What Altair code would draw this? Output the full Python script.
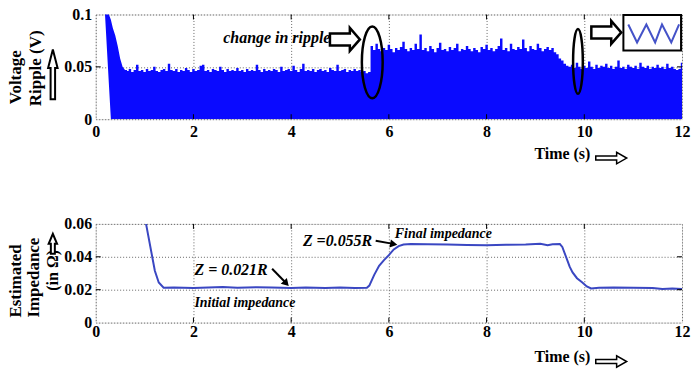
import altair as alt
import pandas as pd

FONT = "Liberation Serif"

# ---------------- data: top panel (voltage ripple envelope) ----------------
start_t = [0.19, 0.27, 0.31, 0.35, 0.40, 0.45, 0.50, 0.55, 0.60, 0.64]
start_hi = [0.125, 0.100, 0.095, 0.087, 0.080, 0.070, 0.058, 0.050, 0.047, 0.047]
start_lo = [0.100, 0.033, 0.0, 0.0, 0.0, 0.0, 0.0, 0.0, 0.0, 0.0]

ripple_t0 = 0.60
ripple_dt = 0.05
# upper envelope of the ripple, in mV
ripple_mv = [
    47, 46, 48, 45, 47, 52, 46, 47, 45, 48, 46, 47, 50, 46, 45, 47, 48, 46, 53, 47,
    46, 48, 45, 47, 46, 49, 47, 45, 48, 46, 47, 51, 52, 46, 47, 45, 48, 47, 46, 50,
    47, 45, 48, 46, 47, 46, 49, 46, 47, 45, 48, 46, 47, 46, 52, 47, 45, 48, 46, 47,
    46, 48, 47, 45, 50, 46, 47, 48, 46, 51, 47, 45, 48, 53, 46, 47, 46, 48, 45, 47,
    48, 46, 47, 45, 49, 47, 46, 52, 46, 47, 48, 45, 47, 46, 48, 46, 47, 45, 46, 44,
    45,
    70, 66, 72, 67, 65, 68, 66, 71, 67, 64, 68, 66, 69, 74, 67, 65, 68, 66, 72, 67,
    81, 66, 68, 65, 70, 67, 64, 68, 73, 66, 67, 65, 69, 66, 68, 72, 65, 67, 66, 70,
    67, 65, 68, 66, 64, 69, 67, 71, 66, 68, 65, 67, 70, 77, 66, 68, 65, 72, 67, 66,
    69, 67, 76, 68, 65, 70, 67, 66, 72, 68, 65, 67, 69, 66, 68, 64, 62,
    58, 56, 53, 51, 50, 52, 49, 54, 50, 48, 51, 49, 55, 50, 48, 52, 49, 51, 50, 53,
    49, 51, 48, 50, 56, 49, 50, 48, 52, 50, 49, 51, 48, 54, 50, 49, 51, 48, 50, 49,
    52, 49, 50, 48, 53, 49, 50, 48, 47, 48, 54,
]

# inset waveform (triangle wave) drawn in the top-right box
wave_t = [10.90, 11.08, 11.27, 11.45, 11.59, 11.78, 11.94]
wave_v = [0.0905, 0.0733, 0.0905, 0.0733, 0.0905, 0.0733, 0.0905]

# ---------------- data: bottom panel (estimated impedance) ----------------
imp_t = [1.00, 1.03, 1.21, 1.29, 1.39, 1.6, 2.0, 2.3, 2.6, 2.9, 3.3, 3.6, 4.0, 4.3,
         4.7, 5.0, 5.3, 5.55, 5.6, 5.7, 5.8, 5.9, 6.0, 6.1, 6.2, 6.3, 6.45, 6.8,
         7.2, 7.6, 8.0, 8.4, 8.8, 9.1, 9.25, 9.35, 9.5, 9.55, 9.63, 9.7, 9.76,
         9.85, 9.96, 10.05, 10.14, 10.3, 10.6, 11.0, 11.4, 11.6, 11.8, 12.0]
imp_z = [0.0625, 0.060, 0.0315, 0.0244, 0.0212, 0.0213, 0.0211, 0.0214, 0.0217,
         0.0212, 0.0215, 0.0213, 0.0210, 0.0213, 0.0211, 0.0214, 0.0211, 0.0212,
         0.0225, 0.029, 0.0345, 0.038, 0.041, 0.0445, 0.0465, 0.0475, 0.0478,
         0.0476, 0.0474, 0.0472, 0.0470, 0.0473, 0.0475, 0.0479, 0.0470, 0.0476,
         0.0477, 0.0460, 0.0396, 0.0340, 0.0305, 0.0270, 0.0244, 0.0220, 0.0208,
         0.0212, 0.0214, 0.0212, 0.0210, 0.0205, 0.0207, 0.0204]

x_ticks = [0, 2, 4, 6, 8, 10, 12]
inner_x_ticks = [2, 4, 6, 8, 10]
top_y_ticks = [0, 0.05, 0.1]
bot_y_ticks = [0, 0.02, 0.04, 0.06]

# ---------------- build tables ----------------
ripple_t = [round(ripple_t0 + ripple_dt * i, 2) for i in range(len(ripple_mv))]
df_start = pd.DataFrame({"t": start_t, "hi": start_hi, "lo": start_lo})
df_ripple = pd.DataFrame({"t": ripple_t, "hi": [v / 1000 for v in ripple_mv],
                          "lo": [0.0] * len(ripple_mv)})
df_wave = pd.DataFrame({"t": wave_t, "v": wave_v})
df_imp = pd.DataFrame({"t": imp_t, "z": imp_z})
one = pd.DataFrame({"a": [0]})

xs = alt.Scale(domain=[0, 12], nice=False, zero=False)
ys_top = alt.Scale(domain=[0, 0.1], nice=False)
ys_bot = alt.Scale(domain=[0, 0.06], nice=False)

grid_kw = dict(grid=True, gridColor="#666", gridDash=[1, 2], gridWidth=1,
               ticks=False, domain=False, title=None, labelFlush=False,
               labelFont=FONT, labelFontSize=16, labelFontWeight="bold",
               labelColor="black")


class Panel:
    def __init__(self, yscale, yvals, xpad, h):
        self.ys = yscale
        self.xax = alt.Axis(values=x_ticks, format="d", labelPadding=xpad, **grid_kw)
        self.yax = alt.Axis(values=yvals, format=".2~f", labelPadding=4, **grid_kw)
        self.h = h

    def X(self, f):
        return alt.X(f, scale=xs, axis=self.xax)

    def Y(self, f):
        return alt.Y(f, scale=self.ys, axis=self.yax)

    def shape(self, path, t, v, size, sw, filled=True):
        kw = dict(fill="white") if filled else {}
        return alt.Chart(pd.DataFrame({"t": [t], "v": [v]})).mark_point(
            shape=path, size=size, filled=filled, stroke="black", strokeWidth=sw,
            opacity=1, **kw
        ).encode(x=self.X("t:Q"), y=self.Y("v:Q"))

    def text(self, text, t, v, size):
        return alt.Chart(pd.DataFrame({"t": [t], "v": [v]})).mark_text(
            text=text, font=FONT, fontSize=size, fontWeight="bold", fontStyle="italic",
            align="left", baseline="middle", color="black"
        ).encode(x=self.X("t:Q"), y=self.Y("v:Q"))

    def ticks(self, yvals):
        xt = pd.DataFrame({"t": inner_x_ticks})
        yt = pd.DataFrame({"v": yvals})
        base = dict(color="black", strokeWidth=1)
        h = self.h
        return [
            alt.Chart(xt).mark_rule(**base).encode(x=self.X("t:Q"), y=alt.value(0), y2=alt.value(5)),
            alt.Chart(xt).mark_rule(**base).encode(x=self.X("t:Q"), y=alt.value(h - 5), y2=alt.value(h)),
            alt.Chart(yt).mark_rule(**base).encode(y=self.Y("v:Q"), x=alt.value(0), x2=alt.value(5)),
            alt.Chart(yt).mark_rule(**base).encode(y=self.Y("v:Q"), x=alt.value(583), x2=alt.value(588)),
        ]

    def arrow_line(self, t, t2, v, v2):
        return alt.Chart(pd.DataFrame({"t": [t], "t2": [t2], "v": [v], "v2": [v2]})).mark_rule(
            color="black", strokeWidth=2).encode(x=self.X("t:Q"), x2="t2:Q", y=self.Y("v:Q"), y2="v2:Q")

    def arrow_head(self, t, v, angle):
        return alt.Chart(pd.DataFrame({"t": [t], "v": [v]})).mark_point(
            shape="triangle-right", size=70, filled=True, color="black", angle=angle, opacity=1
        ).encode(x=self.X("t:Q"), y=self.Y("v:Q"))


RIGHT_ARROW = "M-1,-0.4 L0.33,-0.4 L0.33,-0.77 L1,0 L0.33,0.77 L0.33,0.4 L-1,0.4 Z"
FLAT_ARROW = "M-1,-0.13 L0.35,-0.13 L0.35,-0.37 L1,0 L0.35,0.37 L0.35,0.13 L-1,0.13 Z"
UP_ARROW_LONG = "M-0.09,1 L-0.09,-0.25 L-0.19,-0.25 L0,-1 L0.19,-0.25 L0.09,-0.25 L0.09,1 Z"
UP_ARROW_SHORT = "M-0.2,1 L-0.2,0 L-0.42,0 L0,-1 L0.42,0 L0.2,0 L0.2,1 Z"


def ellipse(rx):
    return f"M0,-1 A{rx},1 0 1,1 0,1 A{rx},1 0 1,1 0,-1 Z"


def pix_text(text, x, y, size, angle=0):
    return alt.Chart(one).mark_text(
        text=text, font=FONT, fontSize=size, fontWeight="bold",
        angle=angle, align="left", baseline="middle", color="black"
    ).encode(x=alt.value(x), y=alt.value(y))


def pix_shape(path, x, y, size, sw):
    return alt.Chart(one).mark_point(
        shape=path, size=size, filled=True, fill="white", stroke="black",
        strokeWidth=sw, opacity=1
    ).encode(x=alt.value(x), y=alt.value(y))


BLUE = "#0a0aff"

# ---------------- top panel ----------------
P = Panel(ys_top, top_y_ticks, 4, 105)
top_layers = [
    alt.Chart(df_ripple).mark_area(color=BLUE, interpolate="step", clip=True, opacity=1).encode(
        x=P.X("t:Q"), y=P.Y("hi:Q"), y2="lo:Q"),
    alt.Chart(df_start).mark_area(color=BLUE, clip=True, opacity=1).encode(
        x=P.X("t:Q"), y=P.Y("hi:Q"), y2="lo:Q"),
    *P.ticks([0.05]),
    # inset box with triangle wave
    alt.Chart(pd.DataFrame({"t": [10.80], "t2": [11.98], "v": [0.0995], "v2": [0.0657]}))
    .mark_rect(fill="white", stroke="black", strokeWidth=2).encode(
        x=P.X("t:Q"), x2="t2:Q", y=P.Y("v:Q"), y2="v2:Q"),
    alt.Chart(df_wave).mark_line(color="#4452c8", strokeWidth=2).encode(
        x=P.X("t:Q"), y=P.Y("v:Q")),
    P.shape(RIGHT_ARROW, 10.45, 0.0829, 900, 2.5),
    # annotation
    P.text("change in ripple", 2.61, 0.0771, 16),
    P.shape(RIGHT_ARROW, 5.10, 0.0762, 900, 2.5),
    P.shape(ellipse(0.29), 5.66, 0.0543, 5184, 2.5, filled=False),
    P.shape(ellipse(0.15), 9.87, 0.0552, 4225, 2.5, filled=False),
    # y title and x title
    pix_text("Voltage", -80, 90, 17, angle=270),
    pix_text("Ripple (V)", -60, 92, 17, angle=270),
    pix_shape(UP_ARROW_LONG, -43, 60, 2500, 2),
    pix_text("Time (s)", 440, 140, 16),
    pix_shape(FLAT_ARROW, 517, 144, 961, 1.5),
    # layout anchor (keeps the plot area at its place in the page)
    alt.Chart(one).mark_rule(color="white", strokeWidth=1).encode(
        x=alt.value(-94.5), x2=alt.value(-94.5), y=alt.value(-12.5), y2=alt.value(-12)),
]
top = alt.layer(*top_layers).properties(width=588, height=105)

# ---------------- bottom panel ----------------
Q = Panel(ys_bot, bot_y_ticks, 1, 99)
bot_layers = [
    alt.Chart(df_imp).mark_line(color="#3a47c2", strokeWidth=2, clip=True).encode(
        x=Q.X("t:Q"), y=Q.Y("z:Q")),
    *Q.ticks([0.02, 0.04]),
    Q.text("Z = 0.021R", 2.02, 0.0321, 16),
    Q.text("Initial impedance", 2.02, 0.0121, 14),
    Q.text("Z =0.055R", 4.24, 0.0497, 16),
    Q.text("Final impedance", 6.12, 0.0539, 14),
    Q.arrow_line(3.61, 3.88, 0.0327, 0.0245),
    Q.arrow_head(3.90, 0.0238, 47),
    Q.arrow_line(5.73, 6.06, 0.0497, 0.0480),
    Q.arrow_head(6.10, 0.0477, 10),
    # y title and x title
    pix_text("Estimated", -80, 94, 17, angle=270),
    pix_text("Impedance", -62, 94, 17, angle=270),
    pix_text("(in Ω)", -43, 67, 16, angle=270),
    pix_shape(UP_ARROW_SHORT, -43, 20, 400, 2),
    pix_text("Time (s)", 440, 134, 16),
    pix_shape(FLAT_ARROW, 517, 138, 961, 1.5),
]
bottom = alt.layer(*bot_layers).properties(width=588, height=99)

chart = alt.vconcat(top, bottom, spacing=105, bounds="flush", padding=0).configure_view(
    stroke="black", strokeWidth=1.5
).configure(background="white")

chart.save("out.html", embed_options={"renderer": "svg", "actions": False})
